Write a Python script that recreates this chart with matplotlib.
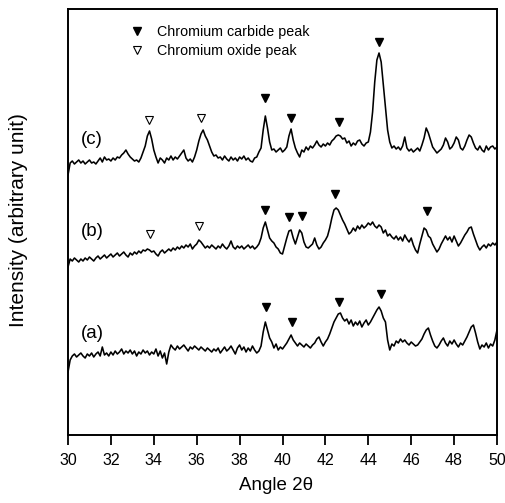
import numpy as np
import matplotlib
matplotlib.use("Agg")
import matplotlib.pyplot as plt
from matplotlib.lines import Line2D

# ---- data (intensity in arbitrary units) ----
angle = np.round(np.arange(30.0, 50.0001, 0.1), 1)

curve_c = [260, 272, 274, 271, 273, 275, 272, 274, 271, 273,
           275, 272, 273, 271, 274, 277, 273, 278, 275, 276,
           274, 277, 275, 278, 277, 280, 282, 285, 281, 278,
           276, 274, 275, 273, 277, 283, 289, 299, 304, 296,
           285, 278, 272, 277, 275, 272, 277, 275, 279, 275,
           278, 276, 279, 282, 285, 277, 274, 276, 273, 278,
           285, 294, 301, 305, 299, 295, 289, 283, 279, 280,
           277, 278, 275, 279, 276, 274, 278, 275, 277, 274,
           278, 276, 279, 275, 277, 274, 273, 277, 278, 283,
           287, 305, 319, 307, 293, 285, 286, 283, 285, 287,
           283, 285, 288, 299, 306, 295, 287, 282, 278, 285,
           283, 288, 285, 289, 287, 290, 294, 290, 288, 291,
           289, 292, 290, 294, 296, 299, 300, 299, 296, 297,
           292, 294, 289, 292, 290, 294, 295, 291, 289, 292,
           293, 303, 323, 353, 375, 382, 373, 350, 327, 305,
           293, 287, 289, 286, 288, 285, 289, 298, 287, 284,
           286, 283, 285, 287, 284, 290, 297, 307, 302, 295,
           288, 285, 282, 284, 286, 290, 297, 293, 286, 288,
           292, 298, 295, 287, 285, 289, 295, 300, 298, 292,
           287, 285, 289, 285, 283, 289, 285, 288, 289, 286,
           288]

curve_b = [168, 176, 174, 177, 175, 173, 176, 174, 177, 175,
           178, 176, 174, 177, 179, 176, 178, 180, 177, 179,
           181, 178, 180, 182, 179, 181, 183, 180, 178, 182,
           180, 183, 181, 184, 182, 185, 184, 186, 185, 183,
           184, 181, 179, 183, 185, 182, 184, 186, 184, 187,
           185, 188, 186, 189, 187, 190, 188, 191, 186, 189,
           191, 195, 193, 190, 187, 189, 187, 190, 188, 186,
           189, 187, 191, 188, 186, 189, 194, 188, 186, 189,
           187, 189, 186, 188, 190, 187, 189, 186, 188, 191,
           197, 207, 213, 205, 197, 194, 192, 188, 186, 182,
           181, 189, 197, 204, 205, 197, 191, 198, 205, 202,
           193, 188, 187, 189, 191, 197, 190, 186, 188, 192,
           195, 199, 207, 217, 225, 227, 225, 220, 215, 211,
           206, 201, 203, 207, 204, 209, 206, 210, 207, 209,
           212, 210, 213, 209, 207, 210, 208, 202, 205, 199,
           201, 198, 196, 199, 195, 198, 194, 200, 196, 193,
           197, 190, 185, 182, 191, 199, 207, 205, 199, 197,
           191, 187, 183, 186, 191, 195, 199, 195, 198, 193,
           199, 194, 189, 192, 196, 200, 203, 207, 208, 201,
           195, 189, 185, 188, 190, 187, 191, 189, 192, 190,
           193]

curve_a = [63, 75, 79, 81, 78, 80, 82, 79, 77, 81,
           79, 82, 78, 81, 83, 79, 88, 80, 82, 79,
           83, 80, 84, 81, 83, 86, 81, 84, 82, 85,
           81, 84, 79, 83, 81, 85, 82, 84, 80, 83,
           81, 86, 79, 84, 77, 82, 71, 83, 90, 87,
           85, 89, 86, 88, 90, 87, 84, 88, 86, 89,
           87, 85, 88, 86, 84, 87, 85, 83, 86, 84,
           87, 82, 85, 88, 84, 86, 89, 85, 81, 87,
           90, 85, 88, 83, 87, 84, 89, 85, 82, 84,
           89, 103, 113, 105, 97, 93, 87, 91, 85, 88,
           86, 89, 92, 96, 100, 95, 92, 89, 92, 90,
           88, 91, 89, 87, 90, 92, 96, 98, 93, 89,
           93, 96, 101, 107, 113, 117, 121, 122, 117, 114,
           116, 111, 115, 109, 113, 110, 114, 108, 112, 115,
           110, 113, 117, 121, 125, 128, 124, 117, 113, 95,
           85, 91, 89, 94, 92, 96, 93, 95, 92, 90,
           93, 91, 89, 90, 93, 96, 101, 105, 107, 100,
           94, 89, 87, 90, 94, 97, 92, 89, 94, 91,
           95, 91, 88, 92, 90, 94, 98, 103, 108, 110,
           102, 93, 86, 90, 88, 92, 87, 91, 89, 95,
           105]

# peak markers: (angle, height)
carbide_c_x = [39.2, 40.38, 42.65, 44.5]
carbide_c_y = [337, 317, 313, 393]
oxide_c_x = [33.76, 36.2]
oxide_c_y = [315, 317]

carbide_b_x = [39.2, 40.32, 40.9, 42.45, 46.72]
carbide_b_y = [225, 218, 219, 241, 224]
oxide_b_x = [33.8, 36.13]
oxide_b_y = [201, 209]

carbide_a_x = [39.23, 40.43, 42.65, 44.58]
carbide_a_y = [128, 113, 133, 141]

curve_labels = ["(a)", "(b)", "(c)"]
curve_label_y = [101, 204, 296]
curve_label_x = 31.12

legend_labels = ["Chromium carbide peak", "Chromium oxide peak"]
x_ticks = list(range(30, 51, 2))

# ---- figure ----
plt.rcParams['font.family'] = ['Liberation Sans', 'DejaVu Sans']
fig = plt.figure(figsize=(5.05, 5.03), dpi=100)
ax = fig.add_axes([68 / 505, 1 - 435 / 503, 429 / 505, 426 / 503])

for y in (curve_a, curve_b, curve_c):
    ax.plot(angle, y, color='black', lw=1.15)

mk = dict(ls='none', marker='v', ms=5.5, color='black')
for xs, ys in ((carbide_a_x, carbide_a_y), (carbide_b_x, carbide_b_y), (carbide_c_x, carbide_c_y)):
    ax.plot(xs, ys, mfc='black', mec='black', **mk)
for xs, ys in ((oxide_b_x, oxide_b_y), (oxide_c_x, oxide_c_y)):
    ax.plot(xs, ys, mfc='white', mec='black', mew=0.8, **mk)

for lab, ly in zip(curve_labels, curve_label_y):
    ax.text(curve_label_x, ly, lab, fontsize=13.5, ha='center', va='center')

handles = [Line2D([], [], ls='none', marker='v', ms=5.5, color='black', mfc='black'),
           Line2D([], [], ls='none', marker='v', ms=5.5, color='black', mfc='white', mew=0.8)]
ax.legend(handles, legend_labels, loc='upper left', bbox_to_anchor=(0.13, 0.975),
          frameon=False, fontsize=10.3, handlelength=1.0, handletextpad=0.9,
          labelspacing=0.3, borderaxespad=0)

ax.set_xlim(30, 50)
ax.set_ylim(0, 426)
ax.set_xticks(x_ticks)
ax.set_yticks([])
ax.tick_params(axis='x', direction='out', length=7, width=1.3, labelsize=11.5, pad=6)
for s in ax.spines.values():
    s.set_linewidth(1.4)

ax.set_xlabel("Angle 2θ", fontsize=13.5)
ax.xaxis.set_label_coords(0.486, -0.098)
ax.set_ylabel("Intensity (arbitrary unit)", fontsize=15)
ax.yaxis.set_label_coords(-0.094, 0.505)

fig.savefig("out.png", dpi=100)
